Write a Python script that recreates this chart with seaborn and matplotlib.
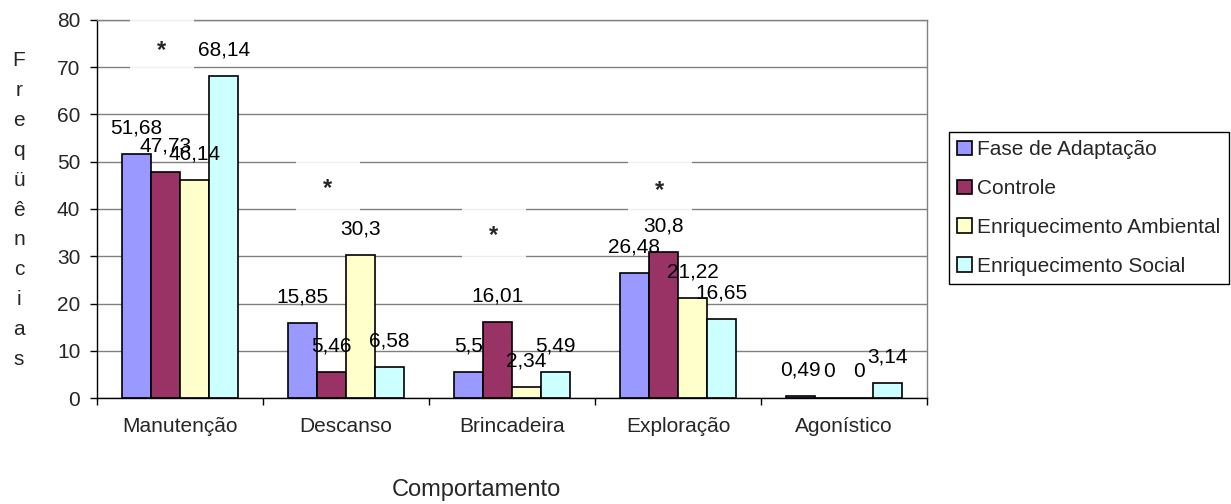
import pandas as pd
import seaborn as sns
import matplotlib
matplotlib.use('Agg')
import matplotlib.pyplot as plt
from matplotlib.patches import Rectangle

# Datos
comportamentos = ['Manutenção', 'Descanso', 'Brincadeira', 'Exploração', 'Agonístico']
fases = ['Fase de Adaptação', 'Controle', 'Enriquecimento Ambiental', 'Enriquecimento Social']

fase_adaptacao = [51.68, 15.85, 5.5, 26.48, 0.49]
controle = [47.73, 5.46, 16.01, 30.8, 0]
enriq_ambiental = [46.14, 30.3, 2.34, 21.22, 0]
enriq_social = [68.14, 6.58, 5.49, 16.65, 3.14]

cores = ['#9999FF', '#993366', '#FFFFCC', '#CCFFFF']

# Asteriscos de significância (categoria, altura)
asterisco_cat = [0, 1, 2, 3]
asterisco_y = [74.8, 45.5, 35.6, 45.2]

# Tabela longa para o seaborn
valores = [fase_adaptacao, controle, enriq_ambiental, enriq_social]
linhas = []
for fase, serie in zip(fases, valores):
    for comp, v in zip(comportamentos, serie):
        linhas.append({'Comportamento': comp, 'Fase': fase, 'Freq': v})
df = pd.DataFrame(linhas)

sns.set_theme(style='white')
plt.rcParams['font.family'] = ['Liberation Sans', 'DejaVu Sans']

fig = plt.figure(figsize=(12.31, 5.04), dpi=100)
ax = fig.add_axes([97 / 1231, 106 / 504, 830 / 1231, 378 / 504])

sns.barplot(data=df, x='Comportamento', y='Freq', hue='Fase', order=comportamentos,
            hue_order=fases, palette=cores, edgecolor='black', linewidth=1.2,
            width=0.7, gap=0, saturation=1, errorbar=None, ax=ax, zorder=2)

# rótulos de dados com vírgula decimal
for cont in ax.containers:
    rot = ['{0:g}'.format(b.get_height()).replace('.', ',') for b in cont]
    ax.bar_label(cont, labels=rot, padding=12, fontsize=15, color='black')

ax.set_ylim(0, 80)
ax.set_xlim(-0.5, 4.5)
ax.set_yticks(range(0, 81, 10))
ax.yaxis.grid(True, color='#808080', linewidth=1.0, zorder=0)
ax.set_axisbelow(True)
ax.tick_params(axis='y', labelsize=15, length=5, width=1, color='black',
               left=True, pad=7)
ax.tick_params(axis='x', which='major', labelsize=15, length=0, pad=14)
ax.set_xticks([i - 0.5 for i in range(6)], minor=True)
ax.tick_params(axis='x', which='minor', length=5, width=1, color='black', bottom=True)

for lado in ['left', 'bottom']:
    ax.spines[lado].set_color('black')
    ax.spines[lado].set_linewidth(1.0)
for lado in ['top', 'right']:
    ax.spines[lado].set_color('#808080')
    ax.spines[lado].set_linewidth(1.0)

# caixas brancas com asterisco
for c, y in zip(asterisco_cat, asterisco_y):
    xc = c - 0.11
    ax.add_patch(Rectangle((xc - 0.193, y - 6.6), 0.386, 13.2, facecolor='white',
                           edgecolor='none', alpha=0.88, zorder=3, clip_on=False))
    ax.text(xc, y - 1.2, '*', fontsize=17, fontweight='bold', ha='center',
            va='center', zorder=4)

ax.set_xlabel('')
ax.set_ylabel('')

fig.text(476 / 1231, 1 - 490 / 504, 'Comportamento', fontsize=17,
         ha='center', va='center')
fig.text(19 / 1231, 1 - 210 / 504, '\n'.join('Freqüências'), fontsize=15,
         ha='center', va='center', linespacing=1.72)

h, l = ax.get_legend_handles_labels()
ax.legend_.remove()
leg = fig.legend(h, l, loc='upper left', bbox_to_anchor=(949 / 1231, 1 - 132 / 504),
                 fontsize=15, frameon=True, fancybox=False, framealpha=1,
                 edgecolor='black', handlelength=0.7, handleheight=0.7,
                 handletextpad=0.25, labelspacing=0.95, borderpad=0.4,
                 borderaxespad=0)
leg.get_frame().set_linewidth(1.0)

fig.savefig('out.png', dpi=100)
